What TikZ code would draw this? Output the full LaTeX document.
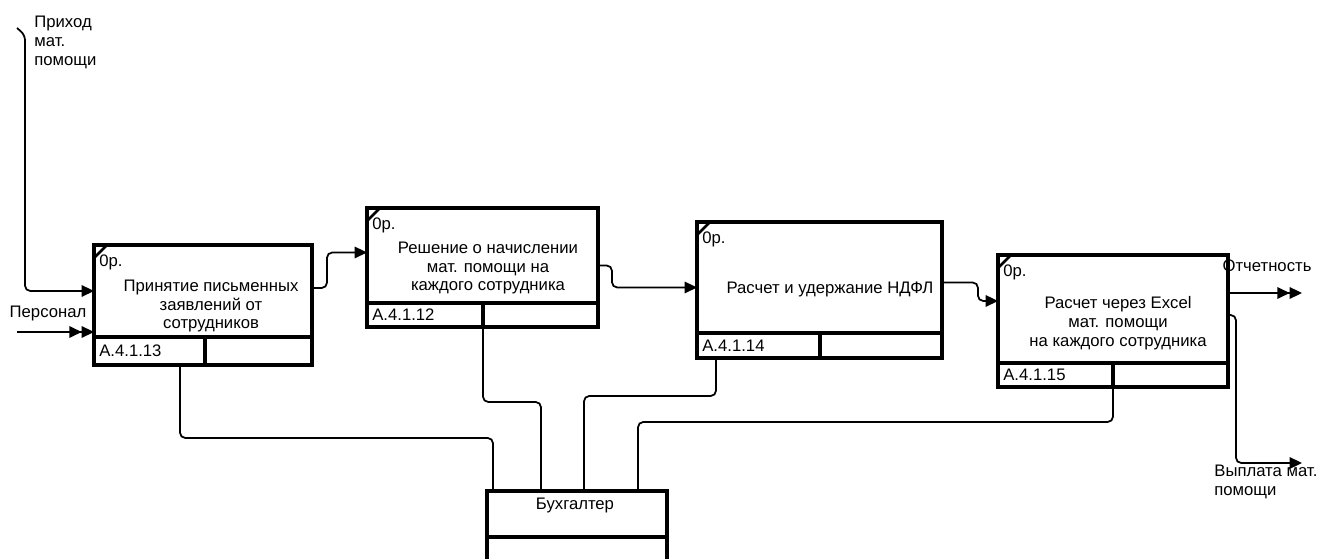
\documentclass[tikz,border=0pt]{standalone}
\usepackage{fontspec}
\setmainfont{Liberation Sans}
\usetikzlibrary{arrows.meta,positioning,calc}
\tikzset{
  actbox/.style={draw, line width=1.8pt, inner sep=0pt, outer sep=0pt, anchor=north west},
  boxtext/.style={align=center, inner sep=0pt},
  tag/.style={inner sep=0pt},
  lbl/.style={align=left, inner sep=0pt},
  conn/.style={line width=1pt, rounded corners=3pt},
  arrow/.style={conn, -{Triangle[length=7pt,width=6.5pt]}},
  dblarrow/.style={conn, -{Triangle[length=7pt,width=6.5pt]Triangle[length=7pt,width=6.5pt]}},
  corner/.style={line width=1.6pt}
}
\begin{document}
\begin{tikzpicture}[
  x=0.02cm,y=0.02cm,
  every node/.append style={font=\fontsize{9.5}{10.8}\selectfont}
]
  \useasboundingbox (0,0) rectangle (1335,558);

  % activity boxes with their footers
  \node[actbox, minimum width=4.36cm, minimum height=1.84cm] (a13) at (94,313) {};
  \node[actbox, minimum width=2.22cm, minimum height=0.56cm] (id13) at (a13.south west) {};
  \node[actbox, minimum width=2.14cm, minimum height=0.56cm] (r13) at (id13.north east) {};

  \node[actbox, minimum width=4.62cm, minimum height=1.90cm] (a12) at (367,350) {};
  \node[actbox, minimum width=2.32cm, minimum height=0.48cm] (id12) at (a12.south west) {};
  \node[actbox, minimum width=2.30cm, minimum height=0.48cm] (r12) at (id12.north east) {};

  \node[actbox, minimum width=4.90cm, minimum height=2.22cm] (a14) at (697,336) {};
  \node[actbox, minimum width=2.46cm, minimum height=0.50cm] (id14) at (a14.south west) {};
  \node[actbox, minimum width=2.44cm, minimum height=0.50cm] (r14) at (id14.north east) {};

  \node[actbox, minimum width=4.60cm, minimum height=2.16cm] (a15) at (998,303) {};
  \node[actbox, minimum width=2.30cm, minimum height=0.48cm] (id15) at (a15.south west) {};
  \node[actbox, minimum width=2.30cm, minimum height=0.48cm] (r15) at (id15.north east) {};

  % mechanism
  \node[actbox, minimum width=3.60cm, minimum height=0.92cm] (buh) at (487,67) {};
  \node[actbox, minimum width=3.60cm, minimum height=1.2cm] (buhlow) at (buh.south west) {};
  \node[tag] (tbuh) at (575,53) {Бухгалтер};

  % box texts
  \node[boxtext] (t13) at (211,252) {Принятие письменных\\заявлений от\\сотрудников};
  \node[boxtext] (t12) at (488,290) {Решение о начислении\\мат. помощи на\\каждого сотрудника};
  \node[boxtext] (t14) at (830,269) {Расчет и удержание НДФЛ};
  \node[boxtext] (t15) at (1118,235) {Расчет через Excel\\мат. помощи\\на каждого сотрудника};

  \node[tag, anchor=west] (o13) at ($(a13.north west)+(5,-17)$) {0р.};
  \node[tag, anchor=west] (o12) at ($(a12.north west)+(5,-17)$) {0р.};
  \node[tag, anchor=west] (o14) at ($(a14.north west)+(5,-17)$) {0р.};
  \node[tag, anchor=west] (o15) at ($(a15.north west)+(5,-17)$) {0р.};
  \draw[corner] ($(a13.north west)+(13,0)$) -- ($(a13.north west)+(0,-13)$);
  \draw[corner] ($(a12.north west)+(13,0)$) -- ($(a12.north west)+(0,-13)$);
  \draw[corner] ($(a14.north west)+(13,0)$) -- ($(a14.north west)+(0,-13)$);
  \draw[corner] ($(a15.north west)+(13,0)$) -- ($(a15.north west)+(0,-13)$);

  \node[tag, right=0.1cm of id13.west] (n13) {А.4.1.13};
  \node[tag, right=0.1cm of id12.west] (n12) {А.4.1.12};
  \node[tag, right=0.1cm of id14.west] (n14) {А.4.1.14};
  \node[tag, right=0.1cm of id15.west] (n15) {А.4.1.15};

  % outer labels
  \node[lbl, anchor=north west] (lin) at (34,542) {Приход\\мат.\\помощи};
  \node[tag] (lpers) at (48,245) {Персонал};
  \node[tag] (lrep) at (1267,292) {Отчетность};
  \node[lbl, anchor=north west] (lpay) at (1214,93) {Выплата мат.\\помощи};

  \coordinate (pin) at (17,530);
  \coordinate (ppers) at (17,226);
  \coordinate (qrep) at (1302,265);
  \coordinate (qpay) at (1302,95);

  % inputs and outputs
  \draw[arrow] (pin) -- ++(8,-7) |- (a13.west);
  \draw[dblarrow] (ppers) -- (ppers -| a13.west);
  \draw[arrow] ($(a13.east)+(0,3)$) -- ++(15,0) |- ($(a12.west)+(0,3)$);
  \draw[arrow] ($(a12.east)+(0,-10)$) -- ++(14,0) |- ($(a14.west)+(0,-10)$);
  \draw[arrow] ($(a14.east)+(0,-5)$) -- ++(36,0) |- ($(a15.west)+(0,8)$);
  \draw[dblarrow] (qrep -| a15.east) -- (qrep);
  \draw[arrow] ($(a15.east)+(0,-6)$) -- ++(8,0) |- (qpay);

  % mechanism lines
  \draw[conn] ($(id13.south west)+(86,0)$) -- ++(0,-73) -| ($(buh.north west)+(6,0)$);
  \draw[conn] (r12.south west) -- ++(0,-75) -| ($(buh.north west)+(54,0)$);
  \draw[conn] ($(id14.south west)+(19,0)$) -- ++(0,-38) -| ($(buh.north west)+(97,0)$);
  \draw[conn] (r15.south west) -- ++(0,-35) -| ($(buh.north west)+(151,0)$);
\end{tikzpicture}
\end{document}
